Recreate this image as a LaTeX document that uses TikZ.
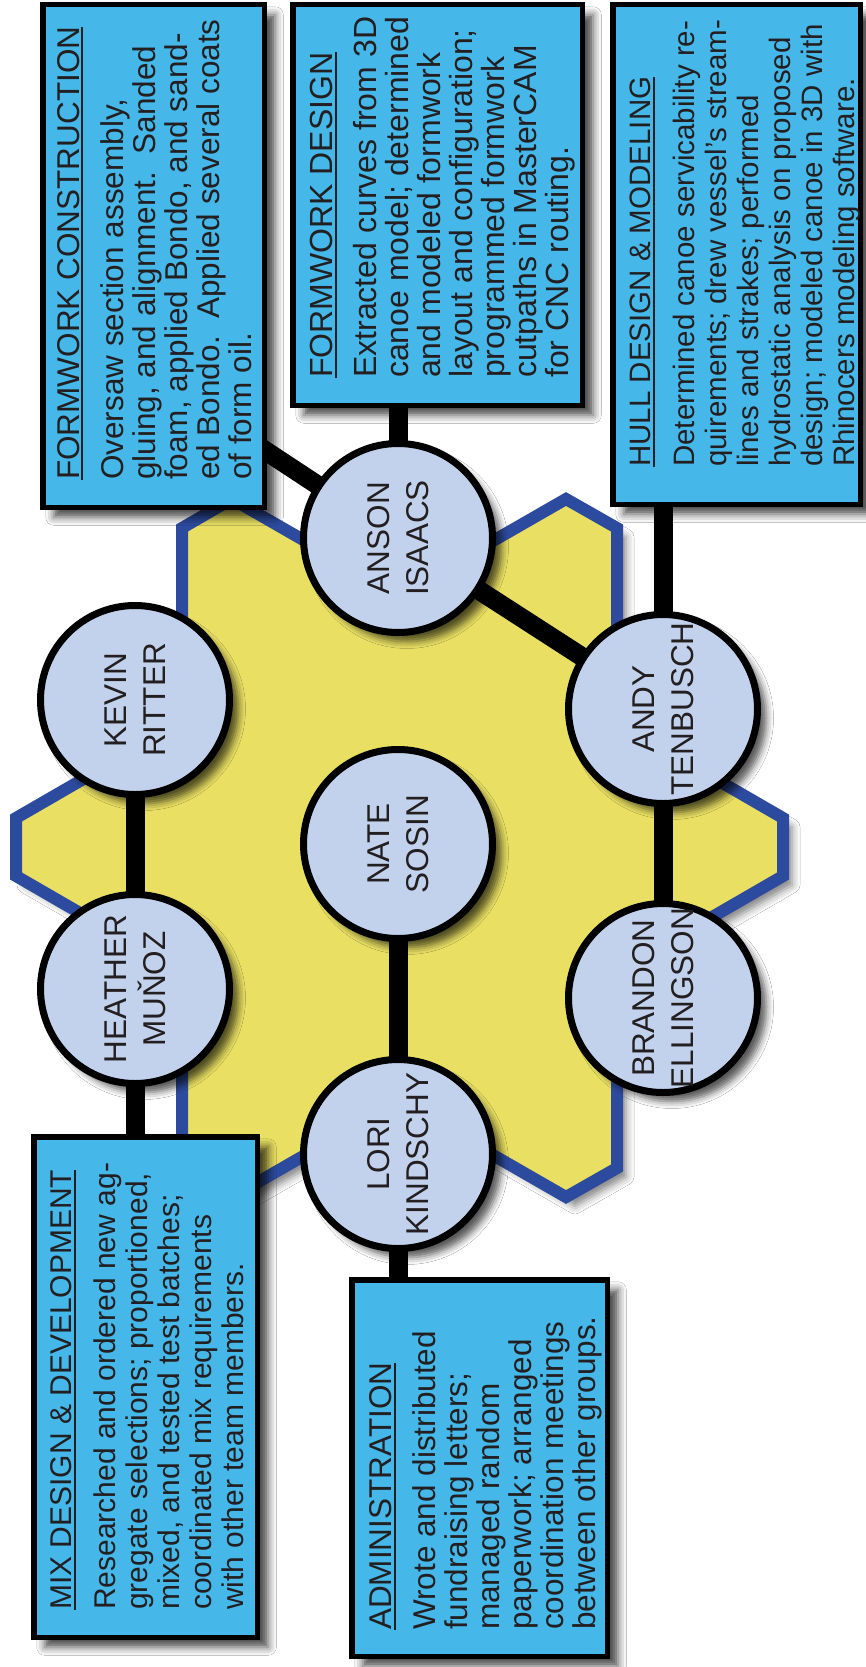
\documentclass[tikz,border=0pt]{standalone}
\usepackage{fontspec}
\setmainfont{Liberation Sans}
\usetikzlibrary{shadows.blur}
\definecolor{boxblue}{RGB}{69,183,233}
\definecolor{circfill}{RGB}{194,210,237}
\definecolor{hexyellow}{RGB}{232,223,99}
\definecolor{hexblue}{RGB}{45,75,158}
\definecolor{textgray}{RGB}{35,31,32}
\newcommand\myul[1]{\setbox0\hbox{#1}\rlap{\rule[-4pt]{\wd0}{1.8pt}}\box0}
\pgfdeclarelayer{bg}
\pgfsetlayers{bg,main}
\begin{document}
\begin{tikzpicture}[x=1pt,y=-1pt,
  person/.style={circle, draw=black, line width=7pt, fill=circfill, minimum size=189pt, inner sep=0pt,
    blur shadow={shadow xshift=9pt, shadow yshift=-9pt, shadow blur radius=7pt, shadow opacity=65}},
  pname/.style={rotate=90, align=center, text=textgray, inner sep=0pt, font=\fontsize{31.5}{39}\selectfont},
  infobox/.style={draw=black, line width=5.5pt, fill=boxblue, inner sep=0pt,
    blur shadow={shadow xshift=11pt, shadow yshift=-10pt, shadow blur radius=8pt, shadow opacity=70}},
  boxtext/.style={rotate=90, anchor=north west, inner sep=0pt, align=left, text=textgray},
  link/.style={line width=19pt, draw=black}
]
\useasboundingbox (0,0) rectangle (866,1667);

% people
\node[person] (anson) at (398,538) {};
\node[person] (kevin) at (135,700) {};
\node[person] (heather) at (135,989) {};
\node[person] (nate) at (398,844) {};
\node[person] (lori) at (398,1154) {};
\node[person] (andy) at (663,709) {};
\node[person] (brandon) at (663,998) {};

\node[pname] (ansonT) at (anson) {ANSON\\ISAACS};
\node[pname] (kevinT) at (kevin) {KEVIN\\RITTER};
\node[pname] (heatherT) at (heather) {HEATHER\\MUŇOZ};
\node[pname] (nateT) at (nate) {NATE\\SOSIN};
\node[pname] (loriT) at (lori) {LORI\\KINDSCHY};
\node[pname] (andyT) at (andy) {ANDY\\TENBUSCH};
\node[pname] (brandonT) at (brandon) {BRANDON\\ELLINGSON};

% boxes
\node[infobox, minimum width=221.5pt, minimum height=502.5pt] (b1) at (153.5,256) {};
\node[infobox, minimum width=289.5pt, minimum height=400.5pt] (b2) at (437.5,205) {};
\node[infobox, minimum width=247.5pt, minimum height=499.5pt] (b3) at (736.5,254.5) {};
\node[infobox, minimum width=223.5pt, minimum height=500.5pt] (b4) at (145.5,1387) {};
\node[infobox, minimum width=255.5pt, minimum height=376.5pt] (b5) at (479.5,1468) {};

\node[boxtext, font=\fontsize{31.5}{32}\selectfont] (t1) at (57,480)
 {\myul{FORMWORK CONSTRUCTION}\\[12pt]
  Oversaw section assembly,\\
  gluing, and alignment.\ \ Sanded\\
  foam, applied Bondo, and sand-\\
  ed Bondo.\ \ Applied several coats\\
  of form oil.};
\node[boxtext, font=\fontsize{32}{32}\selectfont] (t2) at (310,378)
 {\myul{FORMWORK DESIGN}\\[12pt]
  Extracted curves from 3D\\
  canoe model; determined\\
  and modeled formwork\\
  layout and configuration;\\
  programmed formwork\\
  cutpaths in MasterCAM\\
  for CNC routing.};
\node[boxtext, font=\fontsize{29.5}{32}\selectfont] (t3) at (630,467)
 {\myul{HULL DESIGN \& MODELING}\\[12pt]
  Determined canoe servicability re-\\
  quirements; drew vessel’s stream-\\
  lines and strakes; performed\\
  hydrostatic analysis on proposed\\
  design; modeled canoe in 3D with\\
  Rhinocers modeling software.};
\node[boxtext, font=\fontsize{30}{32}\selectfont] (t4) at (50.5,1610)
 {\myul{MIX DESIGN \& DEVELOPMENT}\\[12pt]
  Researched and ordered new ag-\\
  gregate selections; proportioned,\\
  mixed, and tested test batches;\\
  coordinated mix requirements\\
  with other team members.};
\node[boxtext, font=\fontsize{31.5}{32}\selectfont] (t5) at (369.5,1630)
 {\myul{ADMINISTRATION}\\[12pt]
  Wrote and distributed\\
  fundraising letters;\\
  managed random\\
  paperwork; arranged\\
  coordination meetings\\
  between other groups.};

\coordinate (b1end) at (240,434);

\begin{pgfonlayer}{bg}
\fill[white] (0,0) rectangle (866,1667);
\path[draw=hexblue, line width=12pt, fill=hexyellow, line join=miter,
  blur shadow={shadow xshift=9pt, shadow yshift=-9pt, shadow blur radius=8pt, shadow opacity=50}]
  (182,528) -- (232,499) -- (399,595) -- (566,499) -- (617,528) -- (617,722)
  -- (783,818) -- (783,876) -- (617,972) -- (617,1168) -- (566,1197) -- (399,1101)
  -- (232,1197) -- (182,1168) -- (182,972) -- (16,876) -- (16,818) -- (182,722) -- cycle;
\draw[link] (b1end) -- (anson.center);
\draw[link] (anson |- b2.south) -- (anson.center);
\draw[link] (anson.center) -- (andy.center);
\draw[link] (andy |- b3.south) -- (andy.center);
\draw[link] (andy.center) -- (brandon.center);
\draw[link] (kevin.center) -- (heather.center);
\draw[link] (heather.center) -- (heather |- b4.north);
\draw[link] (nate.center) -- (lori.center);
\draw[link] (lori.center) -- (lori |- b5.north);
\end{pgfonlayer}
\end{tikzpicture}
\end{document}
